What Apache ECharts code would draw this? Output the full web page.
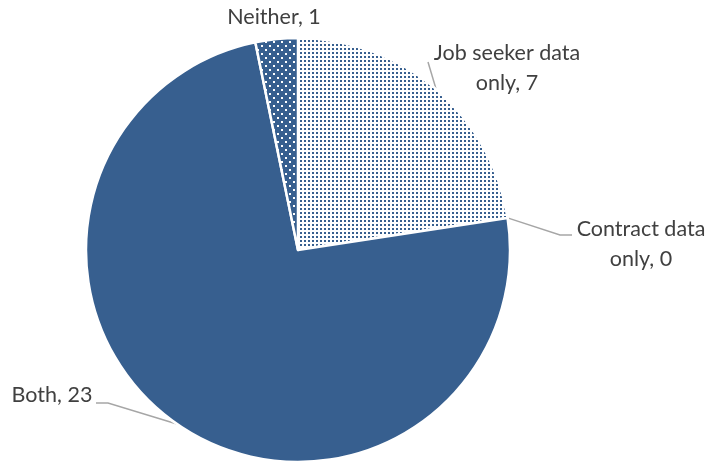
<!DOCTYPE html>
<html>
<head>
<meta charset="utf-8">
<script src="https://cdn.jsdelivr.net/npm/echarts@6/dist/echarts.min.js"></script>
<style>
  html, body { margin: 0; padding: 0; background: #fff; }
  #chart { width: 711px; height: 463px; }
</style>
</head>
<body>
<div id="chart"></div>
<script>
// data
var categories = ['Job seeker data only', 'Contract data only', 'Both', 'Neither'];
var values = [7, 0, 23, 1];
var labelTexts = ['Job seeker data\nonly, 7', 'Contract data\nonly, 0', 'Both, 23', 'Neither, 1'];

var blue = '#375f8f';

// dotted fill: blue dots on white
function lightDots() {
    var c = document.createElement('canvas');
    c.width = 4; c.height = 4;
    var ctx = c.getContext('2d');
    ctx.fillStyle = '#fff';
    ctx.fillRect(0, 0, 4, 4);
    ctx.fillStyle = blue;
    ctx.fillRect(0, 0, 2, 2);
    return c;
}
// white dots on blue
function darkDots() {
    var c = document.createElement('canvas');
    c.width = 8; c.height = 8;
    var ctx = c.getContext('2d');
    ctx.fillStyle = blue;
    ctx.fillRect(0, 0, 8, 8);
    ctx.fillStyle = '#fff';
    ctx.fillRect(1, 1, 2, 2);
    ctx.fillRect(5, 5, 2, 2);
    return c;
}

var fills = [
    { image: lightDots(), repeat: 'repeat' },
    blue,
    blue,
    { image: darkDots(), repeat: 'repeat' }
];

// where each label sits (styling only)
var labelPos = [
    { x: 507, y: 68, line: [[428, 62]] },
    { x: 641, y: 244, line: [[560, 235], [572, 235]] },
    { x: 52, y: 395, line: [[108, 403], [96, 403]] },
    { x: 274, y: 17, line: null }
];

var chart = echarts.init(document.getElementById('chart'));
chart.setOption({
    animation: false,
    series: [{
        type: 'pie',
        center: [298, 250],
        radius: 212,
        startAngle: 90,
        clockwise: true,
        data: categories.map(function (name, i) {
            return {
                name: name,
                value: values[i],
                itemStyle: { color: fills[i] },
                label: { formatter: labelTexts[i] },
                labelLine: { show: labelPos[i].line !== null }
            };
        }),
        itemStyle: { borderColor: '#fff', borderWidth: 2.5 },
        label: {
            show: true,
            color: '#404040',
            fontFamily: 'Lato',
            fontSize: 21.5,
            lineHeight: 30,
            align: 'center'
        },
        labelLine: {
            show: true,
            lineStyle: { color: '#a6a6a6', width: 1.5 }
        },
        labelLayout: function (params) {
            var p = labelPos[params.dataIndex];
            var out = {
                x: p.x,
                y: p.y,
                align: 'center',
                verticalAlign: 'middle'
            };
            if (p.line && params.labelLinePoints) {
                out.labelLinePoints = [params.labelLinePoints[0]].concat(p.line);
            }
            return out;
        }
    }]
});
</script>
</body>
</html>
